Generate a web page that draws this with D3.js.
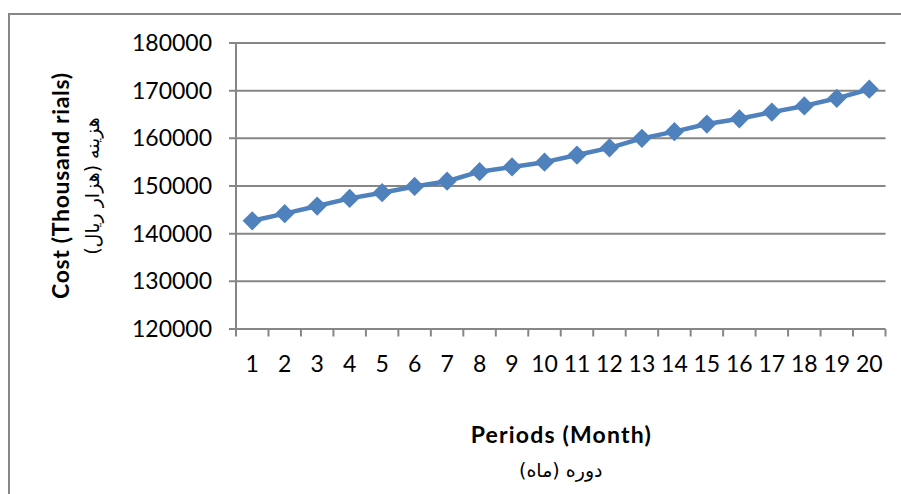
<!DOCTYPE html>
<meta charset="utf-8">
<title>Cost per period</title>
<style>
  body { margin: 0; background: #fff; }
  .grid line, .axis-line { stroke: #868686; stroke-width: 2px; }
  .tick-label { font: 23px Lato, "Open Sans", sans-serif; fill: #000; }
  .title-en { font: bold 23px Lato, "Open Sans", sans-serif; fill: #000; }
  .title-fa { font: 19px "DejaVu Sans", sans-serif; fill: #000; }
</style>
<svg width="901" height="494"></svg>
<script src="https://cdn.jsdelivr.net/npm/d3@7"></script>
<script>
  // values
  var periods = [1, 2, 3, 4, 5, 6, 7, 8, 9, 10, 11, 12, 13, 14, 15, 16, 17, 18, 19, 20];
  var cost = [142700, 144200, 145800, 147400, 148600, 149900, 151000, 153000, 154000, 155000,
    156500, 158000, 160000, 161400, 163000, 164100, 165500, 166800, 168400, 170300];
  var yTicks = [120000, 130000, 140000, 150000, 160000, 170000, 180000];

  var svg = d3.select("svg");
  var plotLeft = 236, plotRight = 885.5, plotTop = 43, plotBottom = 329;

  var x = d3.scaleBand().domain(periods).range([plotLeft, plotRight]);
  var y = d3.scaleLinear().domain([120000, 180000]).range([plotBottom, plotTop]);

  // outer chart border (only left/top visible in frame)
  svg.append("rect")
    .attr("x", 9).attr("y", 14)
    .attr("width", 1000).attr("height", 1000)
    .attr("fill", "none")
    .attr("stroke", "#878787")
    .attr("stroke-width", 2);

  // horizontal gridlines + y ticks
  svg.append("g").attr("class", "grid")
    .selectAll("line")
    .data(yTicks)
    .enter().append("line")
    .attr("x1", plotLeft - 7).attr("x2", plotRight)
    .attr("y1", function(d) { return y(d); })
    .attr("y2", function(d) { return y(d); });

  // y axis line
  svg.append("line").attr("class", "axis-line")
    .attr("x1", plotLeft).attr("x2", plotLeft)
    .attr("y1", plotTop).attr("y2", plotBottom);

  // x ticks at category boundaries
  var bounds = periods.map(function(p) { return x(p); }).concat([plotRight]);
  svg.append("g").attr("class", "grid")
    .selectAll("line")
    .data(bounds)
    .enter().append("line")
    .attr("x1", function(d) { return d; }).attr("x2", function(d) { return d; })
    .attr("y1", plotBottom).attr("y2", plotBottom + 7.5);

  // y labels
  svg.append("g").selectAll("text")
    .data(yTicks)
    .enter().append("text")
    .attr("class", "tick-label")
    .attr("x", 212)
    .attr("y", function(d) { return y(d); })
    .attr("dy", "0.35em")
    .attr("text-anchor", "end")
    .text(function(d) { return d; });

  // x labels
  svg.append("g").selectAll("text")
    .data(periods)
    .enter().append("text")
    .attr("class", "tick-label")
    .attr("x", function(d) { return x(d) + x.bandwidth() / 2; })
    .attr("y", 372)
    .attr("text-anchor", "middle")
    .text(function(d) { return d; });

  // series
  var line = d3.line()
    .x(function(d, i) { return x(periods[i]) + x.bandwidth() / 2; })
    .y(function(d) { return y(d); });

  svg.append("path")
    .datum(cost)
    .attr("d", line)
    .attr("fill", "none")
    .attr("stroke", "#4F81BD")
    .attr("stroke-width", 4.5)
    .attr("stroke-linejoin", "round");

  var diamond = d3.symbol().type(d3.symbolSquare).size(185);
  svg.append("g").selectAll("path")
    .data(cost)
    .enter().append("path")
    .attr("d", diamond)
    .attr("fill", "#4F81BD")
    .attr("transform", function(d, i) {
      return "translate(" + (x(periods[i]) + x.bandwidth() / 2) + "," + y(d) + ") rotate(45)";
    });

  // axis titles
  var cy = (plotTop + plotBottom) / 2, cx = (plotLeft + plotRight) / 2;
  svg.append("text").attr("class", "title-en")
    .attr("transform", "translate(69," + cy + ") rotate(-90)")
    .attr("text-anchor", "middle")
    .attr("textLength", 226)
    .attr("lengthAdjust", "spacing")
    .text("Cost (Thousand rials)");
  svg.append("text").attr("class", "title-fa")
    .attr("transform", "translate(99," + cy + ") rotate(-90)")
    .attr("text-anchor", "middle")
    .attr("direction", "rtl")
    .text("هزینه (هزار ریال)");

  svg.append("text").attr("class", "title-en")
    .attr("x", cx).attr("y", 443)
    .attr("text-anchor", "middle")
    .attr("textLength", 180)
    .attr("lengthAdjust", "spacing")
    .text("Periods (Month)");
  svg.append("text").attr("class", "title-fa")
    .attr("x", cx).attr("y", 477)
    .attr("text-anchor", "middle")
    .attr("direction", "rtl")
    .text("دوره (ماه)");
</script>
